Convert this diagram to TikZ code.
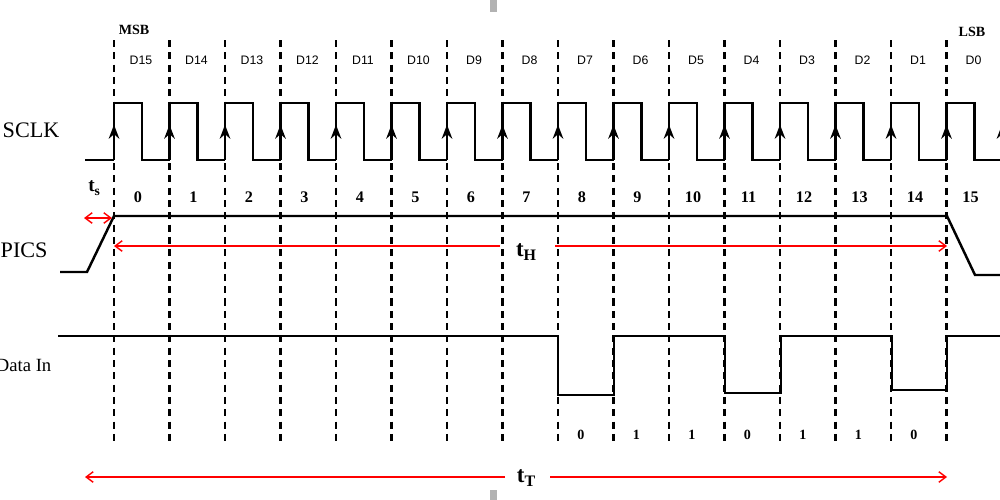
\documentclass[tikz,border=0pt]{standalone}
\usepackage{fontspec}
\setmainfont{Liberation Serif}
\newfontfamily\dfont{Liberation Sans}
\usetikzlibrary{arrows.meta}
\usetikzlibrary{decorations.markings}

\begin{document}
\begin{tikzpicture}[x=0.01cm, y=-0.01cm]
    \tikzstyle{wave}=[line width=0.7pt, line join=miter]
    \tikzstyle{tick}=[line width=0.6pt, dash pattern=on 2pt off 1.5pt]
    \tikzstyle{span}=[red, line width=0.4pt, -{Straight Barb[length=2pt, width=3pt]}]
    \tikzstyle{edge}=[postaction={decorate}, decoration={markings,
      mark=at position 0.62 with {\arrow{Stealth[length=4pt, width=3pt]}}}]

    \clip (0, 0) rectangle (1000, 500);
    \fill[white] (0, 0) rectangle (1000, 500);
    \fill[gray!60] (490, 0) rectangle (497, 12);
    \fill[gray!60] (490, 490) rectangle (497, 500);

    % Bit boundaries
    \foreach \i in {0,...,15}
      \draw[tick] (114 + 55.5*\i, 40) -- (114 + 55.5*\i, 445);
    \node[font=\bfseries\fontsize{4}{5}\selectfont] (msb) at (134, 30) {MSB};
    \node[font=\bfseries\fontsize{4}{5}\selectfont] (lsb) at (972, 32) {LSB};

    % Data bit names and counts
    \foreach \i [evaluate=\i as \d using int(15-\i)] in {0,...,15} {
      \node[font=\dfont\fontsize{3.5}{4}\selectfont] (d\i) at (141 + 55.5*\i, 60) {D\d};
      \node[font=\bfseries\fontsize{4.6}{5}\selectfont] (n\i) at (138 + 55.5*\i, 197) {\i};
    }

    % SCLK
    \node[font=\fontsize{6.3}{7}\selectfont, anchor=west, inner sep=0pt] (sclk) at (2, 130) {SCLK};
    \draw[wave] (85, 160) -- (114, 160);
    \foreach \i in {0,...,15} {
      \draw[wave, edge] (114 + 55.5*\i, 160) -- (114 + 55.5*\i, 103);
      \draw[wave] (114 + 55.5*\i, 103) -- (142 + 55.5*\i, 103)
        -- (142 + 55.5*\i, 160) -- (169.5 + 55.5*\i, 160);
    }
    \draw[wave, edge] (1002, 160) -- (1002, 103);

    % PICS
    \node[font=\fontsize{6.3}{7}\selectfont, anchor=west, inner sep=0pt] (pics) at (0, 250) {PICS};
    \draw[wave] (60, 272) -- (87, 272) -- (114, 216) -- (947, 216)
      -- (975, 275) -- (1000, 275);
    \coordinate (s0) at (84, 218);
    \coordinate (s1) at (112, 218);
    \draw[span, {Straight Barb[length=2pt, width=3pt]}-{Straight Barb[length=2pt, width=3pt]}] (s0) -- (s1);
    \node[font=\bfseries\fontsize{5.5}{6}\selectfont] (ts) at (95, 188) {t\textsubscript{s}};
    \node[font=\bfseries\fontsize{6.5}{7}\selectfont] (th) at (527, 252) {t\textsubscript{H}};
    \coordinate (h0) at (114, 246);
    \coordinate (h1) at (947, 246);
    \draw[span] (500, 246) -- (h0);
    \draw[span] (555, 246) -- (h1);

    % Data In
    \node[font=\fontsize{5.3}{6}\selectfont, anchor=east, inner sep=0pt] (din) at (52, 365) {Data In};
    \draw[wave] (58, 336) -- (558, 336) -- (558, 395) -- (614, 395)
      -- (614, 336) -- (725, 336) -- (725, 393) -- (781, 393)
      -- (781, 336) -- (892, 336) -- (892, 390) -- (947, 390)
      -- (947, 336) -- (1000, 336);
    \foreach \v [count=\k from 0] in {0,1,1,0,1,1,0}
      \node[font=\bfseries\fontsize{4}{5}\selectfont] (v\k) at (581 + 55.5*\k, 435) {\v};

    % Total time
    \node[font=\bfseries\fontsize{6.5}{7}\selectfont] (tt) at (527, 478) {t\textsubscript{T}};
    \coordinate (t0) at (85, 477);
    \coordinate (t1) at (947, 477);
    \draw[span] (505, 477) -- (t0);
    \draw[span] (550, 477) -- (t1);
  \end{tikzpicture}
\end{document}
